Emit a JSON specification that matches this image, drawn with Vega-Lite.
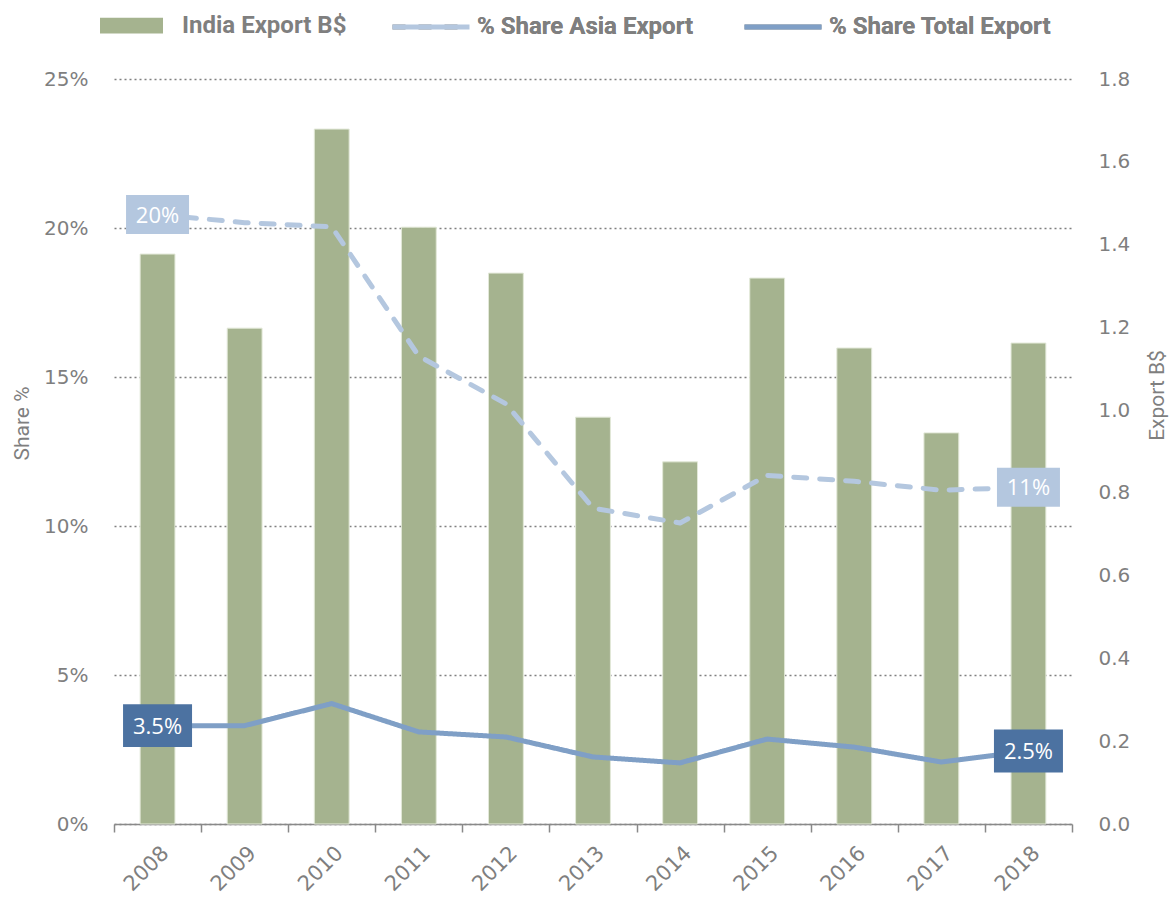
{
  "$schema": "https://vega.github.io/schema/vega-lite/v6.json",
  "width": 958,
  "height": 745,
  "autosize": "none",
  "padding": {"left": 114, "top": 79, "right": 97, "bottom": 75},
  "background": "white",
  "config": {"view": {"stroke": null}, "font": "DejaVu Sans"},
  "datasets": {
    "bars": [
      {"year": "2008", "export": 1.377},
      {"year": "2009", "export": 1.198},
      {"year": "2010", "export": 1.679},
      {"year": "2011", "export": 1.442},
      {"year": "2012", "export": 1.331},
      {"year": "2013", "export": 0.983},
      {"year": "2014", "export": 0.875},
      {"year": "2015", "export": 1.319},
      {"year": "2016", "export": 1.150},
      {"year": "2017", "export": 0.945},
      {"year": "2018", "export": 1.162}
    ],
    "lines": [
      {"year": "2008", "series": "% Share Asia Export", "value": 0.2045},
      {"year": "2009", "series": "% Share Asia Export", "value": 0.2018},
      {"year": "2010", "series": "% Share Asia Export", "value": 0.2004},
      {"year": "2011", "series": "% Share Asia Export", "value": 0.157},
      {"year": "2012", "series": "% Share Asia Export", "value": 0.141},
      {"year": "2013", "series": "% Share Asia Export", "value": 0.106},
      {"year": "2014", "series": "% Share Asia Export", "value": 0.101},
      {"year": "2015", "series": "% Share Asia Export", "value": 0.117},
      {"year": "2016", "series": "% Share Asia Export", "value": 0.115},
      {"year": "2017", "series": "% Share Asia Export", "value": 0.112},
      {"year": "2018", "series": "% Share Asia Export", "value": 0.113},
      {"year": "2008", "series": "% Share Total Export", "value": 0.0330},
      {"year": "2009", "series": "% Share Total Export", "value": 0.0330},
      {"year": "2010", "series": "% Share Total Export", "value": 0.0404},
      {"year": "2011", "series": "% Share Total Export", "value": 0.0309},
      {"year": "2012", "series": "% Share Total Export", "value": 0.0292},
      {"year": "2013", "series": "% Share Total Export", "value": 0.0225},
      {"year": "2014", "series": "% Share Total Export", "value": 0.0205},
      {"year": "2015", "series": "% Share Total Export", "value": 0.0285},
      {"year": "2016", "series": "% Share Total Export", "value": 0.0258},
      {"year": "2017", "series": "% Share Total Export", "value": 0.0208},
      {"year": "2018", "series": "% Share Total Export", "value": 0.0245}
    ],
    "labels": [
      {"year": "2008", "kind": "asia", "value": 0.2045, "label": "20%"},
      {"year": "2018", "kind": "asia", "value": 0.113, "label": "11%"},
      {"year": "2008", "kind": "total", "value": 0.0330, "label": "3.5%"},
      {"year": "2018", "kind": "total", "value": 0.0245, "label": "2.5%"}
    ]
  },
  "layer": [
    {
      "data": {"name": "bars"},
      "mark": {"type": "bar", "color": "#A5B38F", "stroke": "#E2E8D8", "strokeWidth": 1, "width": {"band": 0.4}},
      "encoding": {
        "x": {
          "field": "year", "type": "ordinal",
          "scale": {"paddingInner": 0, "paddingOuter": 0},
          "axis": {
            "title": null, "labelAngle": -45, "labelFontSize": 21, "labelColor": "#7F7F7F",
            "labelFont": "DejaVu Sans", "domainColor": "#898989", "domainWidth": 1.5,
            "tickColor": "#898989", "tickWidth": 1.5, "tickSize": 8, "tickBand": "extent",
            "grid": false, "labelPadding": 10
          }
        },
        "y": {
          "field": "export", "type": "quantitative",
          "scale": {"domain": [0, 1.8], "nice": false},
          "axis": {
            "orient": "right", "values": [0, 0.2, 0.4, 0.6, 0.8, 1.0, 1.2, 1.4, 1.6, 1.8], "format": ".1f",
            "domain": false, "ticks": false, "grid": false, "labelPadding": 26,
            "labelFontSize": 20, "labelColor": "#7F7F7F", "labelFont": "DejaVu Sans",
            "title": "Export B$", "titleFont": "Roboto", "titleFontSize": 21,
            "titleFontWeight": "normal", "titleColor": "#7F7F7F", "titleAngle": 270,
            "titleX": 85, "titleY": 316, "titleAlign": "center", "titleBaseline": "middle"
          }
        },
        "color": {
          "datum": "India Export B$",
          "scale": {"range": ["#A5B38F"]},
          "legend": {
            "orient": "none", "legendX": -14, "legendY": -85, "title": null,
            "symbolType": "M-1,-0.25H1V0.25H-1Z", "symbolSize": 3969, "symbolStrokeWidth": 0,
            "labelFont": "Roboto", "labelFontSize": 24, "labelFontWeight": "bold",
            "labelColor": "#7F7F7F", "labelOffset": 19, "labelLimit": 400
          }
        }
      }
    },
    {
      "layer": [
        {
          "data": {"name": "lines"},
          "mark": {"type": "line", "strokeWidth": 5, "strokeCap": "round", "strokeJoin": "round"},
          "encoding": {
            "x": {"field": "year", "type": "ordinal"},
            "y": {
              "field": "value", "type": "quantitative",
              "scale": {"domain": [0, 0.25], "nice": false},
              "axis": {
                "orient": "left", "values": [0, 0.05, 0.1, 0.15, 0.2, 0.25], "format": ".0%",
                "domain": false, "ticks": false, "grid": true, "gridDash": [2, 3],
                "gridColor": "#808080", "gridWidth": 1.5, "labelPadding": 26,
                "labelFontSize": 20, "labelColor": "#7F7F7F", "labelFont": "DejaVu Sans",
                "title": "Share %", "titleFont": "Roboto", "titleFontSize": 21,
                "titleFontWeight": "normal", "titleColor": "#7F7F7F",
                "titleX": -92, "titleY": 344, "titleAlign": "center", "titleBaseline": "middle", "titleAngle": 270
              }
            },
            "color": {
              "field": "series", "type": "nominal",
              "scale": {"domain": ["% Share Asia Export", "% Share Total Export"], "range": ["#B4C7DF", "#7F9FC6"]},
              "legend": {
                "orient": "none", "legendX": 276, "legendY": -93, "title": null, "direction": "horizontal",
                "symbolType": "stroke", "symbolSize": 5929, "symbolStrokeWidth": 5,
                "labelFont": "Roboto", "labelFontSize": 24, "labelFontWeight": "bold",
                "labelColor": "#7F7F7F", "labelOffset": 5, "columnPadding": 40, "labelLimit": 400
              }
            },
            "strokeDash": {
              "field": "series", "type": "nominal",
              "scale": {"domain": ["% Share Asia Export", "% Share Total Export"], "range": [[13, 13], [1, 0]]},
              "legend": {
                "orient": "none", "legendX": 276, "legendY": -93, "title": null, "direction": "horizontal",
                "symbolType": "stroke", "symbolSize": 5929, "symbolStrokeWidth": 5,
                "labelFont": "Roboto", "labelFontSize": 24, "labelFontWeight": "bold",
                "labelColor": "#7F7F7F", "labelOffset": 5, "columnPadding": 40, "labelLimit": 400
              }
            }
          }
        },
        {
          "data": {"name": "labels"},
          "mark": {"type": "point", "filled": true, "opacity": 1, "shape": "M-1,-0.62H1V0.62H-1Z", "strokeWidth": 0},
          "encoding": {
            "x": {"field": "year", "type": "ordinal"},
            "y": {"field": "value", "type": "quantitative"},
            "fill": {"condition": {"test": "datum.kind === 'asia'", "value": "#B4C7DF"}, "value": "#4C72A1"},
            "size": {"condition": {"test": "datum.kind === 'asia'", "value": 3969}, "value": 4761}
          }
        },
        {
          "data": {"name": "labels"},
          "mark": {"type": "text", "color": "white", "font": "Open Sans", "fontSize": 22, "align": "center", "baseline": "middle", "dy": 1},
          "encoding": {
            "x": {"field": "year", "type": "ordinal"},
            "y": {"field": "value", "type": "quantitative"},
            "text": {"field": "label"}
          }
        }
      ]
    }
  ],
  "resolve": {"scale": {"y": "independent", "color": "independent"}, "legend": {"color": "independent"}}
}
